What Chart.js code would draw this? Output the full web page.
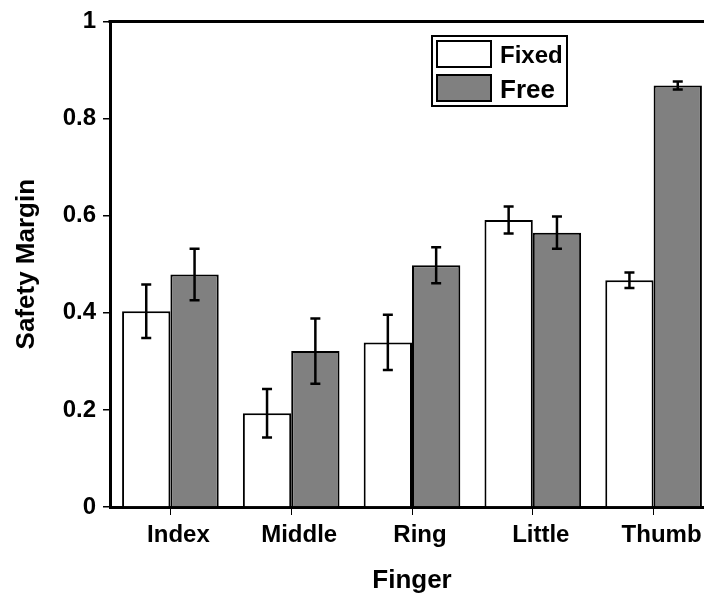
<!DOCTYPE html>
<html lang="en">
<head>
    <meta charset="UTF-8">
    <title>Safety Margin by Finger</title>
    <script src="https://cdn.jsdelivr.net/npm/chart.js"></script>
    <style>
        html, body {
            margin: 0;
            padding: 0;
            background: #ffffff;
            overflow: hidden;
        }
        .chart-box {
            width: 714px;
            height: 596px;
        }
    </style>
</head>
<body>
    <div class="chart-box">
        <canvas id="marginChart" width="714" height="596"></canvas>
    </div>

    <script>
        // values
        const fingers = ['Index', 'Middle', 'Ring', 'Little', 'Thumb'];
        const fixedMargin = [0.403, 0.193, 0.339, 0.591, 0.467];
        const fixedErr = [0.055, 0.050, 0.057, 0.028, 0.016];
        const freeMargin = [0.479, 0.321, 0.498, 0.565, 0.868];
        const freeErr = [0.053, 0.067, 0.037, 0.033, 0.008];
        const yTicks = [0, 0.2, 0.4, 0.6, 0.8, 1];

        const FONT = "'Liberation Sans', Arial, sans-serif";

        // error bars on top of each bar
        const errorBars = {
            id: 'errorBars',
            afterDatasetsDraw(chart) {
                const ctx = chart.ctx;
                const y = chart.scales.y;
                ctx.save();
                ctx.strokeStyle = '#000';
                ctx.lineWidth = 2.5;
                chart.data.datasets.forEach((ds, i) => {
                    const meta = chart.getDatasetMeta(i);
                    meta.data.forEach((bar, j) => {
                        const v = ds.data[j], e = ds.errors[j];
                        const top = y.getPixelForValue(v + e);
                        const bot = y.getPixelForValue(v - e);
                        const cap = 5;
                        ctx.beginPath();
                        ctx.moveTo(bar.x, top);
                        ctx.lineTo(bar.x, bot);
                        ctx.moveTo(bar.x - cap, top);
                        ctx.lineTo(bar.x + cap, top);
                        ctx.moveTo(bar.x - cap, bot);
                        ctx.lineTo(bar.x + cap, bot);
                        ctx.stroke();
                    });
                });
                ctx.restore();
            }
        };

        // top frame line + boxed legend inside the plot
        const frameAndLegend = {
            id: 'frameAndLegend',
            afterDraw(chart) {
                const ctx = chart.ctx;
                const a = chart.chartArea;
                ctx.save();
                ctx.strokeStyle = '#000';
                ctx.lineWidth = 3;
                ctx.beginPath();
                ctx.moveTo(a.left - 1.5, a.top);
                ctx.lineTo(a.right, a.top);
                ctx.stroke();

                // legend box
                ctx.lineWidth = 2;
                ctx.strokeRect(432, 36, 135, 70);
                ctx.fillStyle = '#ffffff';
                ctx.fillRect(437, 41, 54, 26);
                ctx.strokeRect(437, 41, 54, 26);
                ctx.fillStyle = '#808080';
                ctx.fillRect(437, 75, 54, 26);
                ctx.strokeRect(437, 75, 54, 26);

                ctx.fillStyle = '#000';
                ctx.textBaseline = 'alphabetic';
                ctx.font = 'bold 24px ' + FONT;
                ctx.fillText('Fixed', 500, 63);
                ctx.font = 'bold 26px ' + FONT;
                ctx.fillText('Free', 500, 98);
                ctx.restore();
            }
        };

        new Chart(document.getElementById('marginChart'), {
            type: 'bar',
            data: {
                labels: fingers,
                datasets: [{
                    label: 'Fixed',
                    data: fixedMargin,
                    errors: fixedErr,
                    backgroundColor: '#ffffff',
                    borderColor: '#000000',
                    borderWidth: 2
                }, {
                    label: 'Free',
                    data: freeMargin,
                    errors: freeErr,
                    backgroundColor: '#808080',
                    borderColor: '#000000',
                    borderWidth: 2
                }]
            },
            options: {
                responsive: false,
                animation: false,
                events: [],
                layout: { padding: { top: 18, right: 0, bottom: 0, left: 0 } },
                datasets: {
                    bar: { categoryPercentage: 0.8, barPercentage: 1.0 }
                },
                plugins: {
                    legend: { display: false },
                    tooltip: { enabled: false }
                },
                scales: {
                    x: {
                        grid: {
                            offset: false,
                            drawOnChartArea: false,
                            drawTicks: true,
                            tickLength: 8,
                            color: '#000',
                            lineWidth: 1
                        },
                        border: { color: '#000', width: 3 },
                        ticks: {
                            color: '#000',
                            padding: 6,
                            labelOffset: 8,
                            font: { family: FONT, size: 24, weight: 'bold' }
                        },
                        title: {
                            display: true,
                            text: 'Finger',
                            color: '#000',
                            padding: 0,
                            font: { family: FONT, size: 26, weight: 'bold' }
                        },
                        afterFit(scale) { scale.height = 89; }
                    },
                    y: {
                        min: 0,
                        max: 1,
                        afterBuildTicks(scale) {
                            scale.ticks = yTicks.map(v => ({ value: v }));
                        },
                        grid: {
                            drawOnChartArea: false,
                            drawTicks: true,
                            tickLength: 7,
                            color: '#000',
                            lineWidth: 1.5
                        },
                        border: { color: '#000', width: 3 },
                        ticks: {
                            color: '#000',
                            padding: 7,
                            font: { family: FONT, size: 24, weight: 'bold' },
                            callback: v => String(v)
                        },
                        title: {
                            display: true,
                            text: 'Safety Margin',
                            color: '#000',
                            padding: 11,
                            font: { family: FONT, size: 26, weight: 'bold' }
                        },
                        afterFit(scale) { scale.width = 110; }
                    }
                }
            },
            plugins: [errorBars, frameAndLegend]
        });
    </script>
</body>
</html>
